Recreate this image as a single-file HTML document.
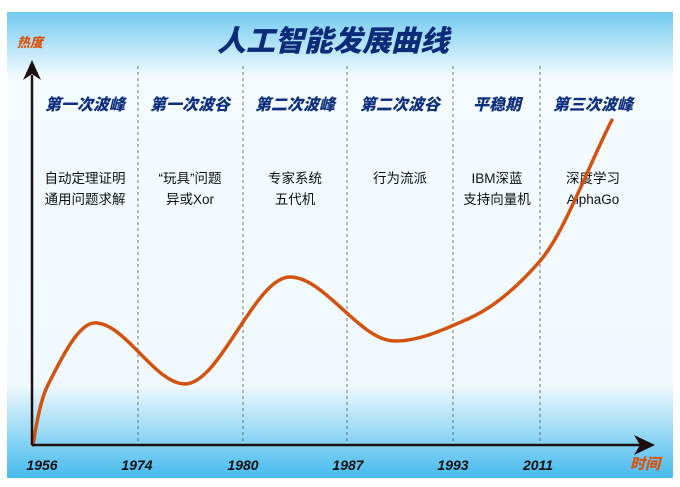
<!DOCTYPE html>
<html><head><meta charset="utf-8"><style>
html,body{margin:0;padding:0;background:#fff;}
svg{display:block;}
.hd{font-family:"Liberation Sans","Noto Sans CJK SC",sans-serif;font-weight:900;font-style:italic;fill:#10307f;font-size:16px;text-anchor:middle;}
.ds{font-family:"Liberation Sans","Noto Sans CJK SC",sans-serif;fill:#111;font-size:13.5px;text-anchor:middle;}
.yr{font-family:"Liberation Sans",sans-serif;font-weight:bold;font-style:italic;fill:#111;font-size:14px;text-anchor:middle;}
</style></head><body>
<svg width="680" height="487" viewBox="0 0 680 487">
<defs>
<linearGradient id="bg" x1="0" y1="0" x2="0" y2="1">
<stop offset="0" stop-color="#72caf0"/>
<stop offset="0.14" stop-color="#f4fbfe"/>
<stop offset="0.8" stop-color="#f0f9fd"/>
<stop offset="1" stop-color="#45bbee"/>
</linearGradient>
</defs>
<rect x="7" y="12" width="666" height="466" fill="url(#bg)"/>
<text x="333" y="51" text-anchor="middle" style="font-family:'Liberation Sans','Noto Sans CJK SC',sans-serif;font-weight:900;font-style:italic;font-size:29px;fill:#0b2a78">人工智能发展曲线</text>
<text x="30" y="47" text-anchor="middle" style="font-family:'Liberation Sans','Noto Sans CJK SC',sans-serif;font-weight:900;font-style:italic;font-size:13px;fill:#d9530f">热度</text>
<text x="645" y="469" text-anchor="middle" style="font-family:'Liberation Sans','Noto Sans CJK SC',sans-serif;font-weight:900;font-style:italic;font-size:15px;fill:#d9530f">时间</text>
<g id="dividers"></g>
<g id="labels"></g>
<path id="curve" fill="none" stroke="#d4520f" stroke-width="3.5" stroke-linecap="round"/>
<line x1="32" y1="445" x2="32" y2="75" stroke="#1a1010" stroke-width="2.5"/>
<polygon points="32,60 23,80 32,74 41,80" fill="#1a1010"/>
<line x1="32" y1="445" x2="640" y2="445" stroke="#1a1010" stroke-width="2.5"/>
<polygon points="655,445 634,435 640,445 634,455" fill="#1a1010"/>
</svg>
<script>
const years=["1956","1974","1980","1987","1993","2011"];
const phases=["第一次波峰","第一次波谷","第二次波峰","第二次波谷","平稳期","第三次波峰"];
const line1=["自动定理证明","“玩具”问题","专家系统","行为流派","IBM深蓝","深度学习"];
const line2=["通用问题求解","异或Xor","五代机","","支持向量机","AlphaGo"];
const curveT=[0,2.5,10.7,26.2,44.3,62.4,75.3,87.4,99.8];
const curveHeat=[0,16,33,16.5,45.4,28.1,34.3,49.7,87.8];
const sx=t=>33+t*5.8;
const sy=h=>445-h*3.7;
const ns="http://www.w3.org/2000/svg";
const divX=[138,243,347,453,540];
const yrX=[42,137,243,348,453,538];
const colC=[85,190,295,400,497,593];
const dg=document.getElementById('dividers');
divX.forEach(x=>{const l=document.createElementNS(ns,'line');


l.setAttribute('x1',x);l.setAttribute('x2',x);l.setAttribute('y1',66);l.setAttribute('y2',445);
l.setAttribute('stroke','#555');l.setAttribute('stroke-width','0.8');l.setAttribute('stroke-dasharray','3,3');dg.appendChild(l);});
const lg=document.getElementById('labels');
function txt(cls,x,y,s,name){const t=document.createElementNS(ns,'text');


t.setAttribute('class',cls);t.setAttribute('x',x);t.setAttribute('y',y);t.textContent=s;lg.appendChild(t);}
phases.forEach((p,i)=>{txt('hd',colC[i],110,p,'phase-header');txt('ds',colC[i],183,line1[i],'phase-desc');if(line2[i])txt('ds',colC[i],204,line2[i],'phase-desc');});
years.forEach((y,i)=>txt('yr',yrX[i],470,y,'year-tick-label'));
const P=curveT.map((t,i)=>[sx(t),sy(curveHeat[i])]);
// monotone-style smooth curve: horizontal tangents at local extrema
const n=P.length;const m=[];
for(let i=0;i<n;i++){
  if(i===0){m.push((P[1][1]-P[0][1])/(P[1][0]-P[0][0])*1.6);continue;}
  if(i===n-1){m.push((P[i][1]-P[i-1][1])/(P[i][0]-P[i-1][0]));continue;}
  const d0=(P[i][1]-P[i-1][1])/(P[i][0]-P[i-1][0]),d1=(P[i+1][1]-P[i][1])/(P[i+1][0]-P[i][0]);
  if(d0*d1<=0)m.push(0);else m.push(2/(1/d0+1/d1));
}
let d='M'+P[0][0]+','+P[0][1];
for(let i=0;i<n-1;i++){const h=(P[i+1][0]-P[i][0])/3;
d+=' C'+(P[i][0]+h)+','+(P[i][1]+m[i]*h)+' '+(P[i+1][0]-h)+','+(P[i+1][1]-m[i+1]*h)+' '+P[i+1][0]+','+P[i+1][1];}
document.getElementById('curve').setAttribute('d',d);
</script>
</body></html>
